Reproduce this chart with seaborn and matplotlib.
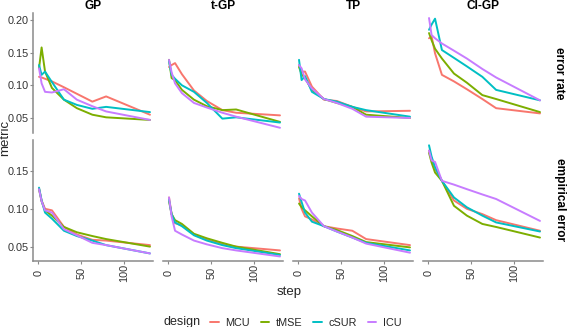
import matplotlib
matplotlib.use("Agg")
import matplotlib.pyplot as plt
import matplotlib.ticker as mticker
from matplotlib.lines import Line2D
import pandas as pd
import seaborn as sns

# Data
steps = [1, 4, 8, 16, 30, 45, 63, 79, 130]
models = ["GP", "t-GP", "TP", "CI-GP"]
metrics = ["error rate", "empirical error"]
designs = ["MCU", "tMSE", "cSUR", "ICU"]
colors = ["#F8766D", "#7CAE00", "#00BFC4", "#C77CFF"]

# error rate
er_gp_mcu = [0.113, 0.112, 0.110, 0.106, 0.097, 0.087, 0.075, 0.083, 0.055]
er_gp_tmse = [0.126, 0.158, 0.121, 0.096, 0.078, 0.065, 0.055, 0.051, 0.047]
er_gp_csur = [0.131, 0.116, 0.121, 0.105, 0.078, 0.070, 0.064, 0.067, 0.059]
er_gp_icu = [0.126, 0.103, 0.090, 0.089, 0.094, 0.078, 0.068, 0.060, 0.047]

er_tgp_mcu = [0.128, 0.131, 0.134, 0.117, 0.092, 0.076, 0.062, 0.058, 0.054]
er_tgp_tmse = [0.139, 0.111, 0.108, 0.093, 0.078, 0.068, 0.062, 0.063, 0.044]
er_tgp_csur = [0.137, 0.116, 0.110, 0.100, 0.090, 0.073, 0.049, 0.051, 0.043]
er_tgp_icu = [0.139, 0.120, 0.103, 0.088, 0.073, 0.066, 0.058, 0.052, 0.035]

er_tp_mcu = [0.131, 0.121, 0.121, 0.098, 0.078, 0.076, 0.067, 0.060, 0.061]
er_tp_tmse = [0.128, 0.117, 0.111, 0.093, 0.079, 0.073, 0.067, 0.055, 0.050]
er_tp_csur = [0.139, 0.108, 0.114, 0.090, 0.079, 0.075, 0.067, 0.062, 0.052]
er_tp_icu = [0.131, 0.126, 0.109, 0.095, 0.079, 0.073, 0.064, 0.052, 0.050]

er_cigp_mcu = [0.172, 0.175, 0.149, 0.116, 0.106, 0.094, 0.079, 0.065, 0.057]
er_cigp_tmse = [0.180, 0.169, 0.156, 0.141, 0.118, 0.104, 0.085, 0.079, 0.059]
er_cigp_csur = [0.185, 0.193, 0.202, 0.154, 0.142, 0.129, 0.113, 0.093, 0.077]
er_cigp_icu = [0.203, 0.177, 0.172, 0.164, 0.153, 0.141, 0.125, 0.112, 0.077]

# empirical error
ee_gp_mcu = [0.127, 0.111, 0.100, 0.098, 0.076, 0.066, 0.059, 0.058, 0.052]
ee_gp_tmse = [0.126, 0.110, 0.098, 0.091, 0.076, 0.069, 0.064, 0.060, 0.050]
ee_gp_csur = [0.128, 0.111, 0.095, 0.087, 0.071, 0.064, 0.058, 0.052, 0.041]
ee_gp_icu = [0.126, 0.110, 0.098, 0.095, 0.073, 0.065, 0.055, 0.052, 0.041]

ee_tgp_mcu = [0.115, 0.093, 0.081, 0.078, 0.066, 0.059, 0.053, 0.050, 0.045]
ee_tgp_tmse = [0.110, 0.093, 0.085, 0.080, 0.067, 0.061, 0.055, 0.050, 0.040]
ee_tgp_csur = [0.112, 0.093, 0.082, 0.077, 0.065, 0.058, 0.052, 0.048, 0.039]
ee_tgp_icu = [0.115, 0.090, 0.071, 0.066, 0.058, 0.053, 0.048, 0.045, 0.037]

ee_tp_mcu = [0.114, 0.100, 0.090, 0.086, 0.077, 0.074, 0.071, 0.060, 0.052]
ee_tp_tmse = [0.107, 0.102, 0.098, 0.090, 0.077, 0.072, 0.064, 0.056, 0.049]
ee_tp_csur = [0.120, 0.109, 0.095, 0.083, 0.077, 0.070, 0.062, 0.055, 0.045]
ee_tp_icu = [0.117, 0.113, 0.111, 0.095, 0.077, 0.070, 0.062, 0.054, 0.042]

ee_cigp_mcu = [0.177, 0.167, 0.153, 0.137, 0.111, 0.100, 0.093, 0.085, 0.071]
ee_cigp_tmse = [0.174, 0.161, 0.148, 0.137, 0.104, 0.091, 0.080, 0.076, 0.062]
ee_cigp_csur = [0.184, 0.169, 0.155, 0.137, 0.115, 0.102, 0.091, 0.082, 0.070]
ee_cigp_icu = [0.177, 0.164, 0.162, 0.137, 0.132, 0.126, 0.119, 0.113, 0.084]

series = {
    ("error rate", "GP"): [er_gp_mcu, er_gp_tmse, er_gp_csur, er_gp_icu],
    ("error rate", "t-GP"): [er_tgp_mcu, er_tgp_tmse, er_tgp_csur, er_tgp_icu],
    ("error rate", "TP"): [er_tp_mcu, er_tp_tmse, er_tp_csur, er_tp_icu],
    ("error rate", "CI-GP"): [er_cigp_mcu, er_cigp_tmse, er_cigp_csur, er_cigp_icu],
    ("empirical error", "GP"): [ee_gp_mcu, ee_gp_tmse, ee_gp_csur, ee_gp_icu],
    ("empirical error", "t-GP"): [ee_tgp_mcu, ee_tgp_tmse, ee_tgp_csur, ee_tgp_icu],
    ("empirical error", "TP"): [ee_tp_mcu, ee_tp_tmse, ee_tp_csur, ee_tp_icu],
    ("empirical error", "CI-GP"): [ee_cigp_mcu, ee_cigp_tmse, ee_cigp_csur, ee_cigp_icu],
}

rows = []
for (metric, model), vals in series.items():
    for design, ys in zip(designs, vals):
        for s, v in zip(steps, ys):
            rows.append({"metric": metric, "model": model, "design": design, "step": s, "value": v})
df = pd.DataFrame(rows)

sns.set_theme(style="white")
plt.rcParams["font.family"] = ["Liberation Sans", "DejaVu Sans"]

W, H = 568, 327
fig = plt.figure(figsize=(W / 100, H / 100), dpi=100)
palette = dict(zip(designs, colors))

def px(left, top, width, height):
    return [left / W, 1 - (top + height) / H, width / W, height / H]

row_geom = [(13, 120, (0.027, 0.2107), [0.05, 0.10, 0.15, 0.20]),
            (140, 121, (0.031, 0.191), [0.05, 0.10, 0.15])]
axis_grey = "#8a8a8a"
label_col = "#333333"

for r, metric in enumerate(metrics):
    top, height, ylim, yticks = row_geom[r]
    for c, model in enumerate(models):
        ax = fig.add_axes(px(33 + 130 * c, top, 120, height))
        sub = df[(df["metric"] == metric) & (df["model"] == model)]
        sns.lineplot(data=sub, x="step", y="value", hue="design", hue_order=designs,
                     palette=palette, linewidth=1.4, legend=False, ax=ax)
        ax.set_xlim(-6, 133.5)
        ax.set_ylim(*ylim)
        ax.set_xlabel("")
        ax.set_ylabel("")
        ax.set_facecolor("white")
        for sp in ["top", "right"]:
            ax.spines[sp].set_visible(False)
        ax.spines["left"].set_visible(c == 0)
        ax.spines["bottom"].set_visible(r == 1)
        for sp in ["left", "bottom"]:
            ax.spines[sp].set_color(axis_grey)
            ax.spines[sp].set_linewidth(1.1)
        ax.set_yticks(yticks)
        ax.yaxis.set_major_formatter(mticker.FormatStrFormatter("%.2f"))
        ax.set_xticks([0, 50, 100])
        ax.tick_params(axis="y", left=(c == 0), labelleft=(c == 0), length=2, width=0.8,
                       color=axis_grey, pad=1.2, labelsize=7.8, labelcolor=label_col)
        ax.tick_params(axis="x", bottom=(r == 1), labelbottom=(r == 1), length=2, width=0.8,
                       color=axis_grey, pad=6.8, labelsize=7.8, labelcolor=label_col)
        if r == 1:
            for lab in ax.get_xticklabels():
                lab.set_rotation(90)
                lab.set_va("center")
                lab.set_ha("center")
        if r == 0:
            fig.text((93 + 130 * c) / W, 1 - 9 / H, model, ha="center", va="baseline",
                     fontsize=8.6, fontweight="bold", color="black")

# row strip labels
fig.text(559.5 / W, 1 - 73 / H, "error rate", rotation=270, ha="center", va="center",
         fontsize=8.6, fontweight="bold", color="black")
fig.text(559.5 / W, 1 - 200 / H, "empirical error", rotation=270, ha="center", va="center",
         fontsize=8.6, fontweight="bold", color="black")

fig.text(5.5 / W, 1 - 138 / H, "metric", rotation=90, ha="center", va="center", fontsize=9.5)
fig.text(289.5 / W, 1 - 292 / H, "step", ha="center", va="center", fontsize=9.5)

# legend
fig.text(163 / W, 1 - 322.5 / H, "design", ha="left", va="center", fontsize=9)
handles = [Line2D([0], [0], color=col, lw=1.4) for col in colors]
fig.legend(handles, designs, loc="center left", bbox_to_anchor=(210 / W, 1 - 322.5 / H),
           ncol=4, frameon=False, fontsize=7.8, handlelength=0.8, handletextpad=0.6,
           columnspacing=1.0, borderpad=0, borderaxespad=0)

fig.savefig("out.png", dpi=100)
